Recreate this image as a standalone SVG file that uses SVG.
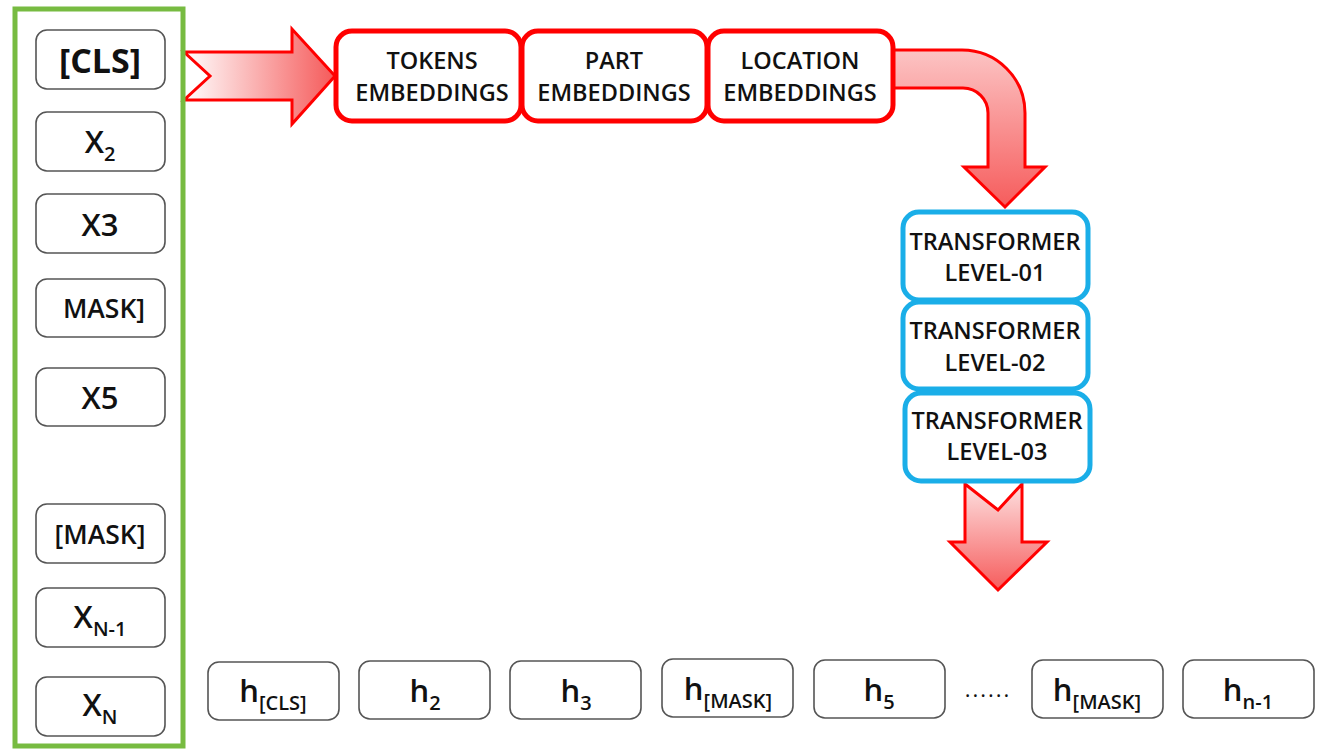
<svg xmlns="http://www.w3.org/2000/svg" width="1317" height="751" viewBox="0 0 1317 751">
<defs>
<linearGradient id="gH" x1="0" y1="0" x2="1" y2="0">
<stop offset="0" stop-color="#ffffff"/>
<stop offset="1" stop-color="#f55a5a"/>
</linearGradient>
<linearGradient id="gV" x1="0" y1="0" x2="0" y2="1">
<stop offset="0" stop-color="#fcc4c4"/>
<stop offset="1" stop-color="#f65c5c"/>
</linearGradient>
<linearGradient id="gV2" x1="0" y1="0" x2="0" y2="1">
<stop offset="0" stop-color="#fde0e0"/>
<stop offset="1" stop-color="#f65c5c"/>
</linearGradient>
</defs>
<style>
text{font-family:"Open Sans","Liberation Sans",sans-serif;fill:#111;text-anchor:middle}
.in{fill:#fff;stroke:#555;stroke-width:1.6}
.emb{fill:#fff;stroke:#f00;stroke-width:5}
.tr{fill:#fff;stroke:#1aaee8;stroke-width:5}
.arr{stroke:#f00;stroke-width:3;stroke-linejoin:miter}
.t22{font-size:23.5px;font-weight:600}
.big{font-size:31px;font-weight:600}
.sub{font-size:20px;font-weight:600}
</style>
<rect x="0" y="0" width="1317" height="751" fill="#fff"/>

<g id="connectors">
<path class="arr" fill="url(#gH)" d="M184,52 L292,52 L292,29 L335,76 L292,124 L292,100 L184,100 L210,76 Z"/>
<path class="arr" fill="url(#gV)" d="M888,50 L962,50 A63,63 0 0 1 1025,113 L1025,167 L1045,167 L1005,207 L964,167 L988,167 L988,113 A25,25 0 0 0 963,88 L888,88 Z"/>
<path class="arr" fill="url(#gV2)" d="M965,484 L998,510 L1022,484 L1022,542 L1047,542 L998,590 L950,542 L965,542 Z"/>
</g>

<g id="input-frame">
<rect x="15" y="9" width="168" height="737" fill="none" stroke="#77bb41" stroke-width="5"/>
</g>

<g id="in-cls"><rect class="in" x="36" y="30" width="129" height="59" rx="11"/><text x="100" y="73" style="font-size:34px;font-weight:700">[CLS]</text></g>
<g id="in-x2"><rect class="in" x="36" y="112" width="129" height="59" rx="11"/><text x="100" y="153" class="big">X<tspan class="sub" dy="8">2</tspan></text></g>
<g id="in-x3"><rect class="in" x="36" y="194" width="129" height="59" rx="11"/><text x="100" y="236" class="big">X3</text></g>
<g id="in-mask1"><rect class="in" x="36" y="279" width="129" height="58" rx="11"/><text x="104" y="318" class="t22" style="font-size:26.5px">MASK]</text></g>
<g id="in-x5"><rect class="in" x="36" y="368" width="129" height="58" rx="11"/><text x="100" y="409" class="big">X5</text></g>
<g id="in-mask2"><rect class="in" x="36" y="504" width="129" height="59" rx="11"/><text x="100" y="544" class="t22" style="font-size:26.5px">[MASK]</text></g>
<g id="in-xn1"><rect class="in" x="36" y="588" width="129" height="59" rx="11"/><text x="100" y="628" class="big">X<tspan class="sub" dy="8">N-1</tspan></text></g>
<g id="in-xn"><rect class="in" x="36" y="677" width="129" height="59" rx="11"/><text x="100" y="716" class="big">X<tspan class="sub" dy="8">N</tspan></text></g>

<g id="emb-tokens"><rect class="emb" x="336" y="31" width="185" height="90" rx="16"/><text x="432" y="69" class="t22">TOKENS</text><text x="432" y="101" class="t22">EMBEDDINGS</text></g>
<g id="emb-part"><rect class="emb" x="522" y="31" width="185" height="90" rx="16"/><text x="614" y="69" class="t22">PART</text><text x="614" y="101" class="t22">EMBEDDINGS</text></g>
<g id="emb-location"><rect class="emb" x="708" y="31" width="185" height="90" rx="16"/><text x="800" y="69" class="t22">LOCATION</text><text x="800" y="101" class="t22">EMBEDDINGS</text></g>

<g id="tr-1"><rect class="tr" x="903" y="212" width="185" height="88" rx="16"/><text x="995" y="250" class="t22">TRANSFORMER</text><text x="995" y="281" class="t22">LEVEL-01</text></g>
<g id="tr-2"><rect class="tr" x="903" y="302" width="185" height="87" rx="16"/><text x="995" y="339" class="t22">TRANSFORMER</text><text x="995" y="371" class="t22">LEVEL-02</text></g>
<g id="tr-3"><rect class="tr" x="905" y="393" width="185" height="88" rx="16"/><text x="997" y="429" class="t22">TRANSFORMER</text><text x="997" y="460" class="t22">LEVEL-03</text></g>

<g id="out-cls"><rect class="in" x="208" y="662" width="131" height="58" rx="11"/><text x="273" y="702" class="big">h<tspan class="sub" dy="8">[CLS]</tspan></text></g>
<g id="out-2"><rect class="in" x="359" y="661" width="131" height="58" rx="11"/><text x="425" y="702" class="big">h<tspan class="sub" dy="8">2</tspan></text></g>
<g id="out-3"><rect class="in" x="510" y="661" width="131" height="58" rx="11"/><text x="576" y="702" class="big">h<tspan class="sub" dy="8">3</tspan></text></g>
<g id="out-mask1"><rect class="in" x="662" y="659" width="131" height="58" rx="11"/><text x="728" y="700" class="big">h<tspan class="sub" dy="8">[MASK]</tspan></text></g>
<g id="out-5"><rect class="in" x="814" y="660" width="131" height="58" rx="11"/><text x="879" y="701" class="big">h<tspan class="sub" dy="8">5</tspan></text></g>
<text x="988" y="697" style="font-size:22px;letter-spacing:2px">......</text>
<g id="out-mask2"><rect class="in" x="1032" y="660" width="131" height="58" rx="11"/><text x="1097" y="701" class="big">h<tspan class="sub" dy="8">[MASK]</tspan></text></g>
<g id="out-n1"><rect class="in" x="1183" y="660" width="131" height="58" rx="11"/><text x="1248" y="701" class="big">h<tspan class="sub" dy="8">n-1</tspan></text></g>
</svg>
